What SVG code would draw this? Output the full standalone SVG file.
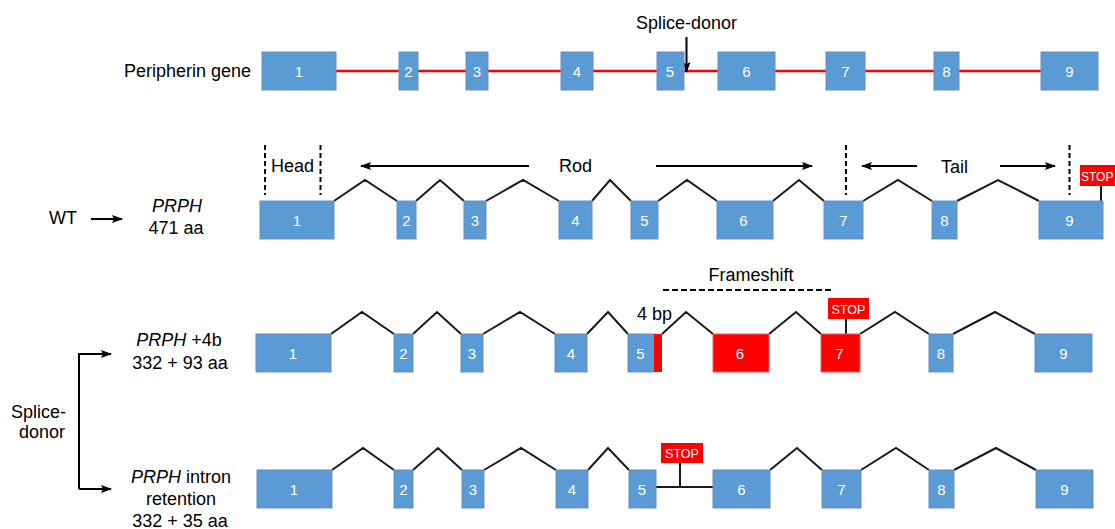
<svg xmlns="http://www.w3.org/2000/svg" width="1115" height="529" viewBox="0 0 1115 529">
<style>
text{font-family:"Liberation Sans",Arial,Helvetica,sans-serif;fill:#000}
.lbl{font-size:18px}
.num{font-size:15px;fill:#fff;text-anchor:middle}
.ex{fill:#5B9BD5;stroke:#6A8DB8;stroke-width:1}
.exr{fill:#FF0000;stroke:#E06060;stroke-width:1}
.intr{fill:none;stroke:#1a1a1a;stroke-width:2;stroke-linejoin:miter}
.arr{fill:none;stroke:#000;stroke-width:2}
.dash{fill:none;stroke:#000;stroke-width:2;stroke-dasharray:5 3}
.stop{fill:#FF0000}
.stopt{font-size:12.5px;fill:#fff;text-anchor:middle}
.gene{stroke:#FF0000;stroke-width:2.5}
</style>
<defs>
<marker id="ah" markerUnits="userSpaceOnUse" markerWidth="11" markerHeight="8" viewBox="0 0 11 8" refX="10" refY="4" orient="auto">
<path d="M0,0 L11,4 L0,8 L2,4 z" fill="#000"/>
</marker>
</defs>

<!-- Row labels -->
<g id="labels">
<text class="lbl" x="124" y="77">Peripherin gene</text>
<text class="lbl" x="686.5" y="29" text-anchor="middle">Splice-donor</text>
<text class="lbl" x="49" y="224">WT</text>
<text class="lbl" x="177" y="212" text-anchor="middle" font-style="italic">PRPH</text>
<text class="lbl" x="176" y="234" text-anchor="middle">471 aa</text>
<text class="lbl" x="271" y="172">Head</text>
<text class="lbl" x="559" y="172">Rod</text>
<text class="lbl" x="941" y="173">Tail</text>
<text class="lbl" x="751" y="281" text-anchor="middle">Frameshift</text>
<text class="lbl" x="637" y="320">4 bp</text>
<text class="lbl" x="179" y="346" text-anchor="middle"><tspan font-style="italic">PRPH</tspan> +4b</text>
<text class="lbl" x="180" y="369" text-anchor="middle">332 + 93 aa</text>
<text class="lbl" x="66" y="418" text-anchor="end">Splice-</text>
<text class="lbl" x="65" y="438" text-anchor="end">donor</text>
<text class="lbl" x="181" y="483" text-anchor="middle"><tspan font-style="italic">PRPH</tspan> intron</text>
<text class="lbl" x="181" y="505" text-anchor="middle">retention</text>
<text class="lbl" x="180" y="527" text-anchor="middle">332 + 35 aa</text>
</g>

<!-- Connectors -->
<g id="connectors">
<line class="gene" x1="336" y1="71" x2="1041" y2="71"/>
<line class="arr" x1="686.5" y1="37" x2="686.5" y2="72" marker-end="url(#ah)"/>
<line class="arr" x1="91" y1="219" x2="122" y2="219" marker-end="url(#ah)"/>
<line class="arr" x1="529" y1="166" x2="361" y2="166" marker-end="url(#ah)"/>
<line class="arr" x1="656" y1="166" x2="812" y2="166" marker-end="url(#ah)"/>
<line class="arr" x1="917" y1="166" x2="862" y2="166" marker-end="url(#ah)"/>
<line class="arr" x1="1000" y1="166" x2="1055" y2="166" marker-end="url(#ah)"/>
<line class="dash" x1="265" y1="145" x2="265" y2="195"/>
<line class="dash" x1="320.5" y1="145" x2="320.5" y2="195"/>
<line class="dash" x1="846" y1="145" x2="846" y2="195"/>
<line class="dash" x1="1069.5" y1="145" x2="1069.5" y2="195"/>
<line class="dash" x1="663" y1="290" x2="832" y2="290" style="stroke-dasharray:6 3"/>
<path class="arr" d="M79,489 V354 H111" marker-end="url(#ah)"/>
<line class="arr" x1="79" y1="489" x2="111" y2="489" marker-end="url(#ah)"/>
<!-- WT introns -->
<path class="intr" d="M334,201 L365,180 L397,201 M416,201 L440,180 L464,201 M486,201 L523,180 L559,201 M592,201 L610,180 L631,201 M658,201 L687,180 L717,201 M773,201 L799,180 L824,201 M863,201 L898,180 L932,201 M957,201 L998,180 L1039,201"/>
<line class="intr" x1="1101" y1="186" x2="1101" y2="201"/>
<!-- +4b introns -->
<path class="intr" d="M331,334 L362,312 L394,334 M413,334 L437,312 L461,334 M483,334 L520,312 L555,334 M587,334 L608,312 L628,334 M662,334 L686,312 L713,334 M769,334 L796,312 L821,334 M860,334 L895,312 L929,334 M953,334 L995,312 L1035,334"/>
<line class="intr" x1="846" y1="319" x2="846" y2="334"/>
<!-- intron retention introns -->
<path class="intr" d="M332,470 L363,448 L394,470 M413,470 L438,448 L462,470 M484,470 L521,448 L556,470 M588,470 L608,448 L629,470 M770,470 L797,448 L822,470 M861,470 L896,448 L929,470 M954,470 L996,448 L1036,470"/>
<line class="intr" x1="656" y1="487" x2="713" y2="487"/>
<line class="intr" x1="680" y1="463" x2="680" y2="487"/>
</g>

<!-- Gene row -->
<g id="gene-e1"><rect class="ex" x="262" y="52" width="74" height="38"/><text class="num" x="299" y="76.5">1</text></g>
<g id="gene-e2"><rect class="ex" x="399" y="52" width="19" height="38"/><text class="num" x="408.5" y="76.5">2</text></g>
<g id="gene-e3"><rect class="ex" x="466" y="52" width="22" height="38"/><text class="num" x="477" y="76.5">3</text></g>
<g id="gene-e4"><rect class="ex" x="561" y="52" width="32" height="38"/><text class="num" x="577" y="76.5">4</text></g>
<g id="gene-e5"><rect class="ex" x="657" y="52" width="27" height="38"/><text class="num" x="670" y="76.5">5</text></g>
<g id="gene-e6"><rect class="ex" x="718" y="52" width="57" height="38"/><text class="num" x="746.5" y="76.5">6</text></g>
<g id="gene-e7"><rect class="ex" x="826" y="52" width="39" height="38"/><text class="num" x="845.5" y="76.5">7</text></g>
<g id="gene-e8"><rect class="ex" x="934" y="52" width="25" height="38"/><text class="num" x="946.5" y="76.5">8</text></g>
<g id="gene-e9"><rect class="ex" x="1041" y="52" width="57" height="38"/><text class="num" x="1069.5" y="76.5">9</text></g>

<!-- WT row -->
<g id="wt-e1"><rect class="ex" x="260" y="201" width="74" height="38"/><text class="num" x="297" y="225.5">1</text></g>
<g id="wt-e2"><rect class="ex" x="397" y="201" width="19" height="38"/><text class="num" x="406.5" y="225.5">2</text></g>
<g id="wt-e3"><rect class="ex" x="464" y="201" width="22" height="38"/><text class="num" x="475" y="225.5">3</text></g>
<g id="wt-e4"><rect class="ex" x="559" y="201" width="33" height="38"/><text class="num" x="575.5" y="225.5">4</text></g>
<g id="wt-e5"><rect class="ex" x="631" y="201" width="27" height="38"/><text class="num" x="644.5" y="225.5">5</text></g>
<g id="wt-e6"><rect class="ex" x="717" y="201" width="56" height="38"/><text class="num" x="743.5" y="225.5">6</text></g>
<g id="wt-e7"><rect class="ex" x="824" y="201" width="39" height="38"/><text class="num" x="843.5" y="225.5">7</text></g>
<g id="wt-e8"><rect class="ex" x="932" y="201" width="25" height="38"/><text class="num" x="944.5" y="225.5">8</text></g>
<g id="wt-e9"><rect class="ex" x="1039" y="201" width="64" height="38"/><text class="num" x="1069.5" y="225.5">9</text></g>
<g id="wt-stop"><rect class="stop" x="1080" y="165" width="35" height="21"/><text class="stopt" x="1081" y="180.5" style="text-anchor:start;font-size:12px">STOP</text></g>

<!-- +4b row -->
<g id="p4-e1"><rect class="ex" x="256" y="334" width="75" height="38"/><text class="num" x="293" y="358.5">1</text></g>
<g id="p4-e2"><rect class="ex" x="394" y="334" width="19" height="38"/><text class="num" x="403.5" y="358.5">2</text></g>
<g id="p4-e3"><rect class="ex" x="461" y="334" width="22" height="38"/><text class="num" x="472" y="358.5">3</text></g>
<g id="p4-e4"><rect class="ex" x="555" y="334" width="32" height="38"/><text class="num" x="571" y="358.5">4</text></g>
<g id="p4-e5"><rect class="ex" x="628" y="334" width="26" height="38"/><rect class="stop" x="654" y="334" width="8" height="38"/><text class="num" x="640.5" y="358.5">5</text></g>
<g id="p4-e6"><rect class="exr" x="713" y="334" width="56" height="38"/><text class="num" x="740" y="358.5">6</text></g>
<g id="p4-e7"><rect class="exr" x="821" y="334" width="39" height="38"/><text class="num" x="839.5" y="358.5">7</text></g>
<g id="p4-e8"><rect class="ex" x="929" y="334" width="24" height="38"/><text class="num" x="941" y="358.5">8</text></g>
<g id="p4-e9"><rect class="ex" x="1035" y="334" width="57" height="38"/><text class="num" x="1063.5" y="358.5">9</text></g>
<g id="p4-stop"><rect class="stop" x="828" y="298" width="41" height="21"/><text class="stopt" x="848.5" y="313.5">STOP</text></g>

<!-- Intron retention row -->
<g id="ir-e1"><rect class="ex" x="257" y="470" width="75" height="38"/><text class="num" x="294" y="494.5">1</text></g>
<g id="ir-e2"><rect class="ex" x="394" y="470" width="19" height="38"/><text class="num" x="403.5" y="494.5">2</text></g>
<g id="ir-e3"><rect class="ex" x="462" y="470" width="22" height="38"/><text class="num" x="473" y="494.5">3</text></g>
<g id="ir-e4"><rect class="ex" x="556" y="470" width="32" height="38"/><text class="num" x="572" y="494.5">4</text></g>
<g id="ir-e5"><rect class="ex" x="629" y="470" width="27" height="38"/><text class="num" x="642" y="494.5">5</text></g>
<g id="ir-e6"><rect class="ex" x="713" y="470" width="57" height="38"/><text class="num" x="741.5" y="494.5">6</text></g>
<g id="ir-e7"><rect class="ex" x="822" y="470" width="39" height="38"/><text class="num" x="841.5" y="494.5">7</text></g>
<g id="ir-e8"><rect class="ex" x="929" y="470" width="25" height="38"/><text class="num" x="941.5" y="494.5">8</text></g>
<g id="ir-e9"><rect class="ex" x="1036" y="470" width="57" height="38"/><text class="num" x="1064.5" y="494.5">9</text></g>
<g id="ir-stop"><rect class="stop" x="661" y="443" width="42" height="20"/><text class="stopt" x="682" y="458">STOP</text></g>
</svg>
